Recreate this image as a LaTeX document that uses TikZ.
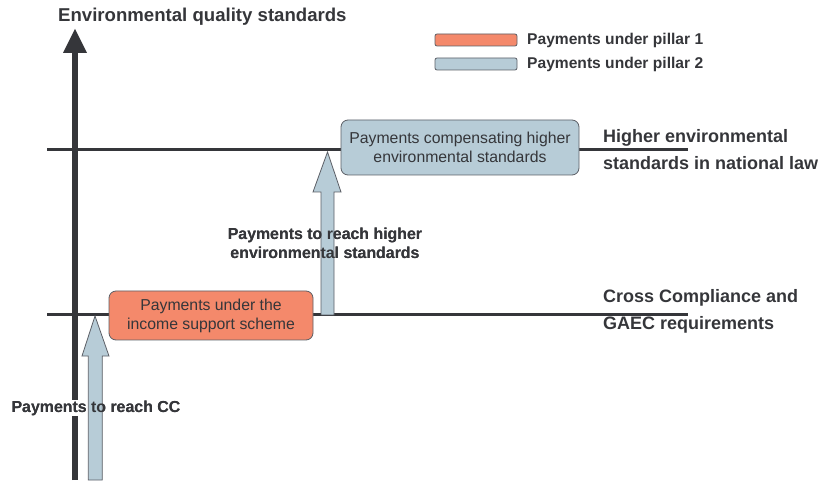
\documentclass[tikz,border=0pt]{standalone}
\usepackage{fontspec}
\setmainfont{Liberation Sans}
\usetikzlibrary{shapes.arrows}
\definecolor{ink}{HTML}{35363A}
\definecolor{pone}{HTML}{F4896B}
\definecolor{ptwo}{HTML}{B7CCD7}
\definecolor{edge}{HTML}{5C5F66}
\tikzset{
  lvl/.style={line width=3pt, draw=ink},
  paybox/.style={draw=edge, line width=0.8pt, rounded corners=7pt, align=center, text=ink, font=\fontsize{15.8}{19}\selectfont, inner sep=0pt},
  legbox/.style={draw=edge, line width=0.8pt, rounded corners=2pt, minimum width=82pt, minimum height=12pt, inner sep=0pt},
  legtext/.style={anchor=west, text=ink, font=\bfseries\fontsize{15.6}{18}\selectfont, inner sep=0pt},
  sidelabel/.style={anchor=base west, align=left, text=ink, font=\bfseries\fontsize{18}{27}\selectfont, inner sep=0pt},
  boldlabel/.style={align=center, text=ink, font=\bfseries\fontsize{15.9}{19}\selectfont, inner sep=1pt},
  uparrow/.style={draw=edge, fill=ptwo, line width=0.8pt, line join=miter}
}
\begin{document}
\begin{tikzpicture}[x=1pt,y=-1pt]
\useasboundingbox (0,0) rectangle (828,481);
% levels
\coordinate (l1a) at (47,150); \coordinate (l1b) at (688,150);
\coordinate (l2a) at (47,315); \coordinate (l2b) at (688,315);
\draw[lvl] (l1a) -- (l1b);
\draw[lvl] (l2a) -- (l2b);
% axis
\coordinate (ax0) at (75,480); \coordinate (ax1) at (75,53);
\draw[ink, line width=6.5pt] (ax0) -- (ax1);
\fill[ink] (63,53) -- (75,29) -- (87,53) -- cycle;
\node[anchor=base west, text=ink, font=\bfseries\fontsize{18.6}{22}\selectfont, inner sep=0pt] (title) at (58,22) {Environmental quality standards};
% legend
\node[legbox, fill=pone] (lg1) at (476,40) {};
\node[legbox, fill=ptwo] (lg2) at (476,64) {};
\node[legtext] (lt1) at (527,40) {Payments under pillar 1};
\node[legtext] (lt2) at (527,64) {Payments under pillar 2};
% side labels
\node[sidelabel] (hi) at (603,170) {Higher environmental\\standards in national law};
\node[sidelabel] (cc) at (603,330) {Cross Compliance and\\GAEC requirements};
% boxes
\node[paybox, fill=pone, minimum width=204pt, minimum height=49pt] (inc) at (211,315.5) {Payments under the\\income support scheme};
\node[paybox, fill=ptwo, minimum width=238pt, minimum height=55pt] (comp) at (460,147.5) {Payments compensating higher\\environmental standards};
% labels behind arrows
\node[boldlabel, fill=white] (lcc) at (96,408) {Payments to reach CC};
\node[boldlabel] (lhi) at (325,243) {Payments to reach higher\\environmental standards};
% arrows
\coordinate (a1b) at (95,480); \coordinate (a1t) at (95,316);
\draw[uparrow] (88.3,480) -- (88.3,356) -- (82,356) -- (a1t) -- (109,356) -- (102.3,356) -- (102.3,480) -- cycle;
\coordinate (a2b) at (327.5,315); \coordinate (a2t) at (327.5,152);
\draw[uparrow] (321,315) -- (321,192) -- (313,192) -- (a2t) -- (341,192) -- (334,192) -- (334,315) -- cycle;
% label text on top
\node[boldlabel] at (96,408) {Payments to reach CC};
\node[boldlabel] at (325,243) {Payments to reach higher\\environmental standards};
\end{tikzpicture}
\end{document}
